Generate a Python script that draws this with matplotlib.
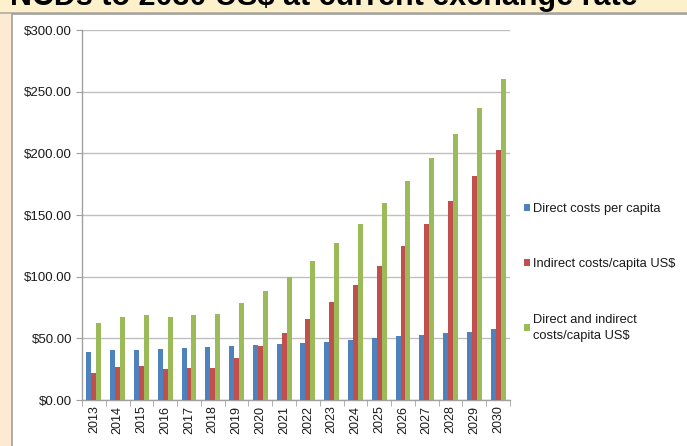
import matplotlib
matplotlib.use("Agg")
import matplotlib.pyplot as plt
import numpy as np
from matplotlib.patches import Rectangle

years = ["2013", "2014", "2015", "2016", "2017", "2018", "2019", "2020", "2021",
         "2022", "2023", "2024", "2025", "2026", "2027", "2028", "2029", "2030"]
direct = [39.3, 40.4, 40.9, 41.7, 42.3, 42.8, 43.6, 45.0, 45.8,
          46.6, 47.4, 48.8, 49.9, 51.5, 52.8, 54.2, 55.3, 57.5]
indirect = [22.2, 26.6, 27.4, 25.2, 25.8, 25.8, 33.9, 43.6, 54.2,
            65.6, 79.1, 93.2, 108.9, 125.2, 142.5, 161.2, 181.3, 202.4]
combined = [62.3, 67.5, 68.8, 67.5, 68.8, 69.4, 78.6, 88.5, 99.5,
            112.5, 127.4, 143.1, 159.9, 177.2, 195.9, 216.0, 237.1, 260.5]
series_names = ["Direct costs per capita", "Indirect costs/capita US$",
                "Direct and indirect\ncosts/capita US$"]
yticks = [0, 50, 100, 150, 200, 250, 300]
title = "NCDs to 2030 US$ at current exchange rate"

plt.rcParams['font.family'] = ['Liberation Sans', 'DejaVu Sans']

W, H = 687, 446
fig = plt.figure(figsize=(W / 100, H / 100), dpi=100)
fig.patch.set_facecolor("#FCEAD2")

# top band
fig.patches.append(Rectangle((0, 1 - 12 / H), 1, 12 / H, transform=fig.transFigure,
                             facecolor="#FDF1CC", edgecolor="none", zorder=-3))
fig.patches.append(Rectangle((0, 1 - 13.5 / H), 1, 1.5 / H, transform=fig.transFigure,
                             facecolor="#BDB5A6", edgecolor="none", zorder=-3))
# white panel
fig.patches.append(Rectangle((12 / W, -0.01), 1, (H - 14) / H + 0.01, transform=fig.transFigure,
                             facecolor="white", edgecolor="#A0A0A0", linewidth=1.2, zorder=-2))

fig.text(10 / W, 1 - 5 / H, title, ha="left", va="baseline", fontsize=22,
         fontweight="bold", color="black", zorder=-1)

ax = fig.add_axes([82 / W, 1 - 400 / H, (510 - 82) / W, (400 - 30) / H])
ax.set_zorder(2)
ax.set_facecolor("none")

x = np.arange(len(years))
bw = 0.21
colors = ["#4F81BD", "#C0504D", "#9BBB59"]
for i, (vals, c, name) in enumerate(zip([direct, indirect, combined], colors, series_names)):
    ax.bar(x + (i - 1) * bw, vals, width=bw, color=c, label=name, zorder=3)

ax.set_xlim(-0.5, len(years) - 0.5)
ax.set_ylim(0, 300)
ax.set_yticks(yticks)
ax.set_yticklabels([f"${v:.2f}" for v in yticks], fontsize=9.5, color="#1A1A1A")
ax.set_xticks(x)
ax.set_xticklabels(years, rotation=90, fontsize=9, color="#1A1A1A")
ax.set_xticks(np.arange(-0.5, len(years), 1), minor=True)
ax.tick_params(axis="x", which="major", length=0, pad=4)
ax.tick_params(axis="x", which="minor", length=4, color="#A0A0A0")
ax.tick_params(axis="y", length=4, color="#A0A0A0", pad=3)
ax.grid(axis="y", color="#BFBFBF", linewidth=1.0, zorder=0)
for s in ["top", "right"]:
    ax.spines[s].set_visible(False)
for s in ["left", "bottom"]:
    ax.spines[s].set_color("#A0A0A0")
    ax.spines[s].set_linewidth(1.0)

leg = ax.legend(loc="center left", bbox_to_anchor=(1.005, 0.345), frameon=False,
                fontsize=9.3, handlelength=0.45, handleheight=0.45, handletextpad=0.3,
                labelspacing=3.35)
for t in leg.get_texts():
    t.set_color("#1A1A1A")
    t.set_linespacing(1.45)

fig.savefig("out.png", dpi=100, facecolor=fig.get_facecolor())
